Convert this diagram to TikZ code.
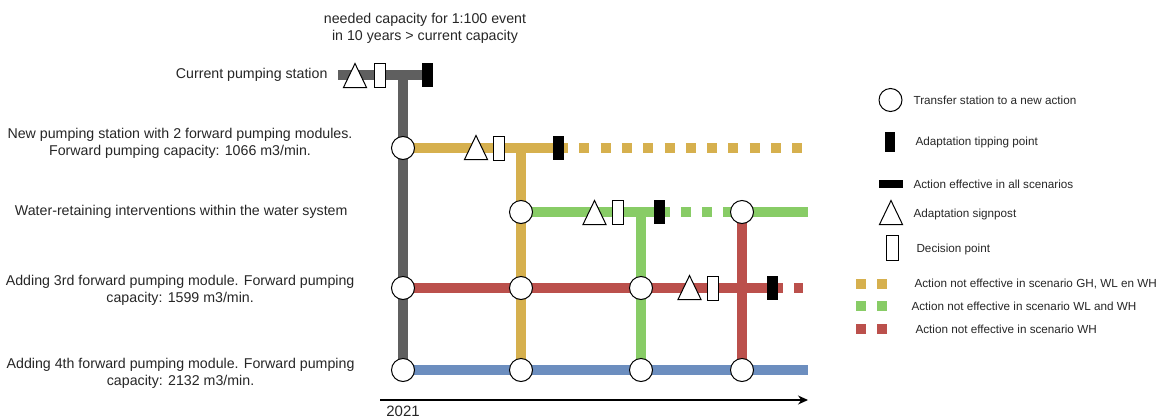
\documentclass[tikz,border=0pt]{standalone}
\usepackage{fontspec}
\setmainfont{Liberation Sans}
\usetikzlibrary{arrows.meta,shapes.geometric,backgrounds}
\definecolor{pathgrey}{HTML}{5F5F5F}
\definecolor{pathyellow}{HTML}{D6B04E}
\definecolor{pathgreen}{HTML}{88CC66}
\definecolor{pathred}{HTML}{BB504C}
\definecolor{pathblue}{HTML}{6C8EBF}
\tikzset{route/.style={line width=10pt},notall/.style={route,dash pattern=on 10pt off 11.3pt},
 xfer/.style={circle,draw,fill=white,line width=1pt,minimum size=23pt,inner sep=0pt},
 signpost/.style={isosceles triangle,isosceles triangle stretches,shape border rotate=90,draw,fill=white,
 line width=1pt,minimum width=23pt,minimum height=24pt,inner sep=0pt,anchor=lower side},
 decision/.style={rectangle,draw,fill=white,line width=1pt,minimum width=11pt,minimum height=24pt,inner sep=0pt},
 tipping/.style={rectangle,fill=black,minimum width=11pt,minimum height=24pt,inner sep=0pt},
 lbl/.style={font=\fontsize{14.2}{17}\selectfont,align=center,text=black!85},
 leg/.style={font=\fontsize{11.7}{14}\selectfont,anchor=west,text=black!85},
 legsq/.style={rectangle,minimum size=10pt,inner sep=0pt}}

\begin{document}
\begin{tikzpicture}[x=1pt,y=-1pt]
\useasboundingbox (0,0) rectangle (1158,418);

% transfer stations
\node[xfer] (y0) at (403,148) {};
\node[xfer] (r0) at (403,288) {};
\node[xfer] (b0) at (403,370) {};
\node[xfer] (g1) at (521,212) {};
\node[xfer] (r1) at (521,288) {};
\node[xfer] (b1) at (521,370) {};
\node[xfer] (r2) at (641,288) {};
\node[xfer] (b2) at (641,370) {};
\node[xfer] (g3) at (742,212) {};
\node[xfer] (b3) at (742,370) {};
\coordinate (cur) at (338,75);
\coordinate (yend) at (803,148);
\coordinate (gend) at (808,212);
\coordinate (rend) at (803,288);
\coordinate (bend) at (808,370);

% signposts, decision and tipping points
\node[signpost] (sp0) at (355,88) {};
\node[decision] (dp0) at (380,75) {};
\node[tipping] (tp0) at (427,75) {};
\node[signpost] (sp1) at (476,160) {};
\node[decision] (dp1) at (499,148) {};
\node[tipping] (tp1) at (558,148) {};
\node[signpost] (sp2) at (594.5,225) {};
\node[decision] (dp2) at (617.5,212) {};
\node[tipping] (tp2) at (659.5,212) {};
\node[signpost] (sp3) at (689.5,300) {};
\node[decision] (dp3) at (713,288) {};
\node[tipping] (tp3) at (772.5,288) {};

\begin{scope}[on background layer]
\draw[route,pathgrey] (cur) -- (tp0.center);
\draw[route,pathgrey] (b0 |- cur) -- (b0.center);
\draw[route,pathyellow] (y0.center) -- (tp1.center);
\draw[notall,pathyellow] (tp1.center) -- (yend);
\draw[route,pathyellow] (b1 |- y0) -- (b1.center);
\draw[route,pathgreen] (g1.center) -- (tp2.center);
\draw[notall,pathgreen] (tp2.center) -- (g3.center);
\draw[route,pathgreen] (g3.center) -- (gend);
\draw[route,pathgreen] (b2 |- g1) -- (b2.center);
\draw[route,pathred] (r0.center) -- (tp3.center);
\draw[notall,pathred] (tp3.center) -- (rend);
\draw[route,pathred] (g3.center) -- (b3.center);
\draw[route,pathblue] (b0.center) -- (bend);
\end{scope}

% time axis
\coordinate (t0) at (380,400);
\coordinate (t1) at (808,400);
\draw[-{Stealth[length=10pt,width=9pt]},line width=1.2pt] (t0) -- (t1);
\node[lbl,font=\fontsize{15}{17}\selectfont] (yr) at (403,411) {2021};

% action labels
\node[lbl] (atp) at (425,28) {needed capacity for 1:100 event\\in 10 years > current capacity};
\node[lbl,anchor=east] (lcur) at (331,75) {Current pumping station};
\node[lbl,anchor=east] (lnew) at (356,143.5) {New pumping station with 2 forward pumping modules.\\Forward pumping capacity: 1066 m3/min.};
\node[lbl,anchor=east] (lwat) at (351,212) {Water-retaining interventions within the water system};
\node[lbl,anchor=east] (lthree) at (358,290) {Adding 3rd forward pumping module. Forward pumping\\capacity: 1599 m3/min.};
\node[lbl,anchor=east] (lfour) at (358,373.5) {Adding 4th forward pumping module. Forward pumping\\capacity: 2132 m3/min.};

% legend
\node[xfer] (kx) at (890.5,100) {};
\node[leg] (kxt) at (910,100) {Transfer station to a new action};
\node[tipping,minimum width=10pt,minimum height=20pt] (kt) at (890,142) {};
\node[leg] (ktt) at (912,142) {Adaptation tipping point};
\node[fill=black,minimum width=24pt,minimum height=8pt,inner sep=0pt] (ke) at (891,184) {};
\node[leg] (ket) at (910,184) {Action effective in all scenarios};
\node[signpost] (ks) at (891,225) {};
\node[leg] (kst) at (910,214) {Adaptation signpost};
\node[decision,minimum width=12pt,minimum height=25pt] (kd) at (892,248) {};
\node[leg] (kdt) at (913,249) {Decision point};
\node[legsq,fill=pathyellow] (ky1) at (860.5,284) {};
\node[legsq,fill=pathyellow] (ky2) at (882,284) {};
\node[leg] (kyt) at (911,284) {Action not effective in scenario GH, WL en WH};
\node[legsq,fill=pathgreen] (kg1) at (860.5,306) {};
\node[legsq,fill=pathgreen] (kg2) at (882,306) {};
\node[leg] (kgt) at (908,306) {Action not effective in scenario WL and WH};
\node[legsq,fill=pathred] (kr1) at (860.5,329) {};
\node[legsq,fill=pathred] (kr2) at (882,329) {};
\node[leg] (krt) at (912,329) {Action not effective in scenario WH};
\end{tikzpicture}
\end{document}
